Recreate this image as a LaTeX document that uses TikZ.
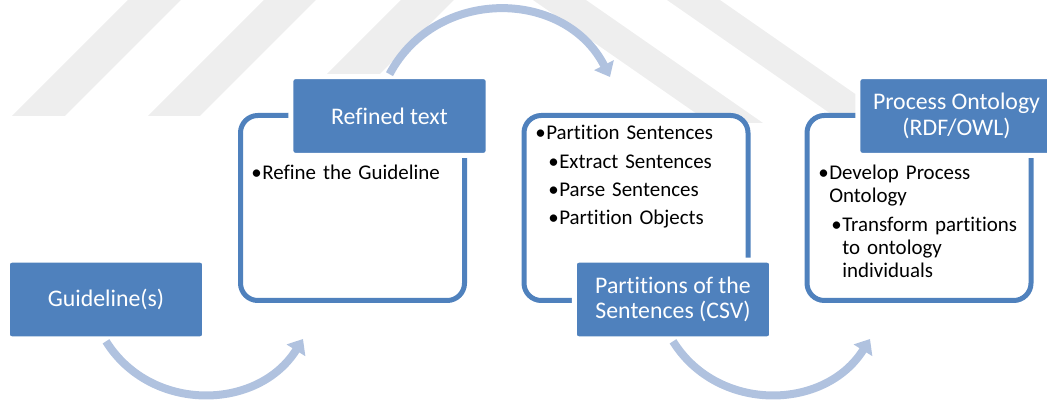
\documentclass[tikz,border=0pt]{standalone}
\usepackage{fontspec}
\setmainfont{Carlito}[Ligatures=NoCommon]
\usetikzlibrary{arrows.meta}

\definecolor{boxblue}{HTML}{4F81BD}
\definecolor{flowblue}{HTML}{B0C2DF}
\definecolor{wmark}{HTML}{EEEEEE}

% bullets, first and second level
\newcommand{\bulA}[1]{\noindent\hangindent=8.25pt\hangafter=1\makebox[8.25pt][l]{\textbullet}#1\par}
\newcommand{\bulB}[1]{\noindent\hangindent=18pt\hangafter=1\hspace*{9.75pt}\makebox[8.25pt][l]{\textbullet}#1\par}

\begin{document}
\begin{tikzpicture}[x=0.75pt,y=0.75pt,
  head/.style={fill=boxblue, draw=white, line width=3.75pt, rounded corners=3pt, text=white,
    align=center, minimum width=148pt, minimum height=59pt, inner sep=0pt,
    font=\fontsize{17.85}{19}\selectfont},
  frame/.style={draw=boxblue, fill=white, line width=3.75pt, rounded corners=13pt,
    minimum width=168pt, minimum height=138.75pt, inner sep=0pt},
  items/.style={anchor=base west, inner sep=0pt, text width=175pt, align=left,
    font=\fontsize{15.7}{17.25}\selectfont, execute at begin node=\setlength{\parskip}{4pt}},
  flow/.style={draw=flowblue, line width=6pt, -{Triangle[length=10pt,width=16pt]}},
  wm/.style={fill=wmark}]
\useasboundingbox (0,0) rectangle (1047,400);

% watermark stripes
\fill[wm] (12,284) -- (65,284) -- (181,400) -- (128,400) -- cycle;
\fill[wm] (148,284) -- (200,284) -- (316,400) -- (264,400) -- cycle;
\fill[wm] (285,284) -- (338,284) -- (454,400) -- (401,400) -- cycle;
\fill[wm] (533,400) -- (586,400) -- (763,277) -- (710,277) -- cycle;
\fill[wm] (667,400) -- (720,400) -- (897,277) -- (844,277) -- cycle;

% frames
\node[frame] (refinebox) at (352.5,192) {};
\node[frame] (partbox) at (636,192) {};
\node[frame] (procbox) at (919,192) {};

% contents
\node[items] (refinetxt) at (251,220) {\bulA{Refine the Guideline}};
\node[items] (parttxt) at (535,260) {\bulA{Partition Sentences}\bulB{Extract Sentences}%
  \bulB{Parse Sentences}\bulB{Partition Objects}};
\node[items] (proctxt) at (818,220) {\bulA{Develop Process\newline Ontology}%
  \bulB{Transform partitions\newline to ontology\newline individuals}};

% headers
\node[head] (guide) at (106,100.5) {Guideline(s)};
\node[head] (refine) at (389.5,284) {Refined text};
\node[head] (part) at (673,100.5) {Partitions of the\\Sentences (CSV)};
\node[head] (proc) at (956.5,284) {Process Ontology\\(RDF/OWL)};

% arrows
\coordinate (refinein) at (303,61);
\coordinate (partin) at (610,323);
\coordinate (procin) at (870,61);
\draw[flow] (guide.south) to[out=-58,in=-122,looseness=1.1] (refinein);
\draw[flow] (refine.north) to[out=62,in=117,looseness=1.15] (partin);
\draw[flow] (part.south) to[out=-58,in=-122,looseness=1.1] (procin);
\end{tikzpicture}
\end{document}
